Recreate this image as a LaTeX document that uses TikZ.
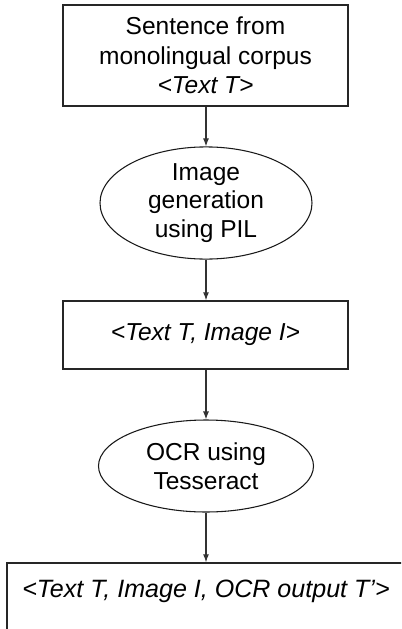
\documentclass[tikz,border=0pt]{standalone}
\usepackage{fontspec}
\setmainfont{Liberation Sans}
\usetikzlibrary{shapes.geometric,arrows.meta}
\begin{document}
\begin{tikzpicture}[x=0.75pt,y=-0.75pt,
  boxnode/.style={draw=black!85,line width=1.1pt,rectangle,inner sep=0pt,align=center,font=\fontsize{18.4}{22}\selectfont},
  ellnode/.style={draw=black!90,line width=0.8pt,ellipse,inner sep=0pt,align=center,font=\fontsize{18.4}{21.5}\selectfont},
  conn/.style={draw=black!80,line width=0.8pt,-{Latex[length=6pt,width=4.5pt]}}]
\useasboundingbox (0,0) rectangle (401,629);
\clip (0,0) rectangle (401,629);
\node[boxnode,minimum width=213.75pt,minimum height=75.75pt] (b1) at (205.5,55.5) {Sentence from\\monolingual corpus\\\textit{<Text T>}};
\node[ellnode,minimum width=159pt,minimum height=75pt] (e1) at (206,203) {Image\\generation\\using PIL};
\node[boxnode,minimum width=213.75pt,minimum height=51pt] (b2) at (205.5,335) {\textit{<Text T, Image I>}};
\node[ellnode,minimum width=161.25pt,minimum height=69pt] (e2) at (206,466) {OCR using\\Tesseract};
\node[boxnode,minimum width=302.25pt,minimum height=57.75pt] (b3) at (208.5,601.5) {};
\node[font=\fontsize{18.8}{22}\selectfont,inner sep=0pt] (t3) at (206,591) {\textit{<Text T, Image I, OCR output T’>}};
\draw[conn] (b1.south -| e1.north) -- (e1.north);
\draw[conn] (e1.south) -- (e1.south |- b2.north);
\draw[conn] (e1.south |- b2.south) -- (e2.north);
\draw[conn] (e2.south) -- (e2.south |- b3.north);
\end{tikzpicture}
\end{document}
